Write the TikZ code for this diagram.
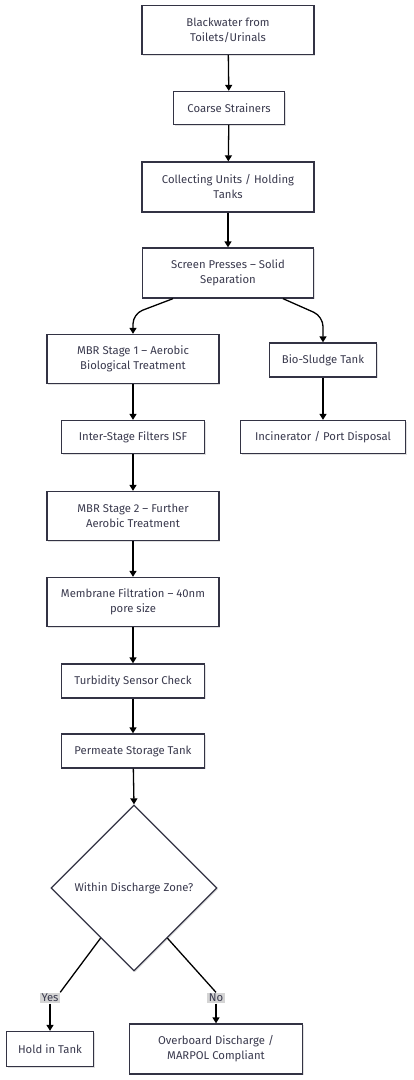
\documentclass[tikz,border=0pt]{standalone}
\usepackage{fontspec}
\setmainfont{Fira Sans}
\usetikzlibrary{calc,arrows.meta,shapes.geometric,shadows}

\definecolor{edgec}{HTML}{333344}
\definecolor{textc}{HTML}{3A3A4E}
\definecolor{lblc}{HTML}{D4D4D4}

\tikzset{
  procbox/.style={draw=edgec, line width=1.3pt, fill=white, text=textc,
    inner sep=0pt, align=center, font=\fontsize{11.3}{15}\selectfont,
    drop shadow={shadow xshift=1.2pt, shadow yshift=-1.2pt, fill=black!12, opacity=1}},
  decbox/.style={procbox, diamond, aspect=1},
  lbl/.style={fill=lblc, text=textc, inner sep=1.5pt, font=\fontsize{11.3}{12}\selectfont},
  arr/.style={-{Triangle[length=6pt,width=7pt]}, line width=1.3pt, black},
  ln/.style={line width=1.3pt, black}
}

\begin{document}
\begin{tikzpicture}[x=1pt,y=-1pt]
  \useasboundingbox (0,0) rectangle (413,1080);

  % main column
  \node[procbox, minimum width=172pt, minimum height=49pt] (bw)   at (228,30)  {Blackwater from\\Toilets/Urinals};
  \node[procbox, minimum width=111pt, minimum height=33pt] (cs)   at (229,108) {Coarse Strainers};
  \node[procbox, minimum width=172pt, minimum height=50pt] (cu)   at (228,187) {Collecting Units / Holding\\Tanks};
  \node[procbox, minimum width=171pt, minimum height=50pt] (sp)   at (228,273) {Screen Presses – Solid\\Separation};

  % treatment branch
  \node[procbox, minimum width=172pt, minimum height=49pt] (mbra) at (133,359) {MBR Stage 1 – Aerobic\\Biological Treatment};
  \node[procbox, minimum width=143pt, minimum height=33pt] (isf)  at (133,437) {Inter-Stage Filters ISF};
  \node[procbox, minimum width=172pt, minimum height=49pt] (mbrb) at (133,516) {MBR Stage 2 – Further\\Aerobic Treatment};
  \node[procbox, minimum width=172pt, minimum height=49pt] (mem)  at (133,602) {Membrane Filtration – 40nm\\pore size};
  \node[procbox, minimum width=143pt, minimum height=34pt] (turb) at (133,681) {Turbidity Sensor Check};
  \node[procbox, minimum width=143pt, minimum height=34pt] (perm) at (133,751) {Permeate Storage Tank};

  % sludge branch
  \node[procbox, minimum width=107pt, minimum height=34pt] (bio)  at (323,360) {Bio-Sludge Tank};
  \node[procbox, minimum width=165pt, minimum height=33pt] (inc)  at (323,437) {Incinerator / Port Disposal};

  % decision
  \node[decbox, minimum width=166pt, minimum height=166pt] (zone) at (134,888) {Within Discharge Zone?};
  \node[procbox, minimum width=87pt, minimum height=35pt]  (hold) at (50,1049)  {Hold in Tank};
  \node[procbox, minimum width=173pt, minimum height=50pt] (over) at (216,1049) {Overboard Discharge /\\MARPOL Compliant};

  \node[lbl] (yes) at (50,998)  {Yes};
  \node[lbl] (no)  at (216,998) {No};

  % connectors
  \draw[arr] (bw) -- (cs);
  \draw[arr] (cs) -- (cu);
  \draw[arr] (cu) -- (sp);
  \draw[arr, rounded corners=10pt] ($(sp.south)+(-55,0)$) -- ($(mbra.north)+(0,-20)$) -- (mbra.north);
  \draw[arr, rounded corners=10pt] ($(sp.south)+(55,0)$) -- ($(bio.north)+(0,-26)$) -- (bio.north);
  \draw[arr] (mbra) -- (isf);
  \draw[arr] (isf) -- (mbrb);
  \draw[arr] (mbrb) -- (mem);
  \draw[arr] (mem) -- (turb);
  \draw[arr] (turb) -- (perm);
  \draw[arr] (perm) -- (zone.north);
  \draw[arr] (bio) -- (inc);

  \draw[ln] ($(zone.west)!0.6!(zone.south)$) -- (yes.north east);
  \draw[arr] (yes.south) -- (hold.north);
  \draw[ln] ($(zone.east)!0.6!(zone.south)$) -- (no.north);
  \draw[arr] (no.south) -- (over.north);
\end{tikzpicture}
\end{document}
